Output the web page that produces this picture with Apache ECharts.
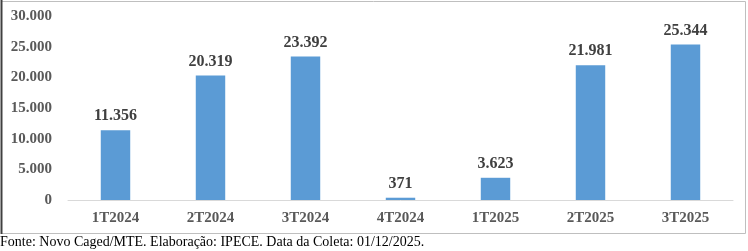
<!DOCTYPE html>
<html><head><meta charset="utf-8">
<script src="https://cdn.jsdelivr.net/npm/echarts@6/dist/echarts.min.js"></script>
<style>html,body{margin:0;padding:0;background:#fff}#c{width:748px;height:251px}</style>
</head><body><div id="c"></div>
<script>
const categories = ['1T2024','2T2024','3T2024','4T2024','1T2025','2T2025','3T2025'];
const values = [11356, 20319, 23392, 371, 3623, 21981, 25344];
const yTicks = [0, 5000, 10000, 15000, 20000, 25000, 30000];
const sourceText = 'Fonte: Novo Caged/MTE. Elaboração: IPECE. Data da Coleta: 01/12/2025.';

const fmt = v => String(v).replace(/\B(?=(\d{3})+(?!\d))/g, '.');
const serif = '"Liberation Serif", "Times New Roman", serif';
const chart = echarts.init(document.getElementById('c'), null, {renderer:'canvas'});
chart.setOption({
  animation: false,
  grid: {left: 68, right: 15, top: 16, bottom: 51, containLabel: false},
  graphic: [
    {type:'rect', shape:{x:1.5, y:1.5, width:744, height:232}, style:{fill:'none', stroke:'#bfbfbf', lineWidth:1}},
    {type:'line', shape:{x1:1.5, y1:0, x2:1.5, y2:234}, style:{stroke:'#404040', lineWidth:2}},
    {type:'text', left:0, top:235, style:{text: sourceText, font: '14px ' + serif, fill:'#000'}}
  ],
  xAxis: {
    type:'category', data: categories,
    axisLine:{lineStyle:{color:'#d9d9d9', width:1}},
    axisTick:{show:false},
    axisLabel:{color:'#595959', fontFamily: serif, fontWeight:'bold', fontSize:15, margin:11}
  },
  yAxis: {
    type:'value', min: yTicks[0], max: yTicks[yTicks.length-1], interval: yTicks[1]-yTicks[0],
    axisLine:{show:false}, axisTick:{show:false}, splitLine:{show:false},
    axisLabel:{color:'#595959', fontFamily: serif, fontWeight:'bold', fontSize:15, margin:16, formatter: v => fmt(v)}
  },
  series: [{
    type:'bar', data: values, barWidth:'31%',
    itemStyle:{color:'#5b9bd5'},
    label:{show:true, position:'top', distance:6, color:'#404040', fontFamily: serif, fontWeight:'bold', fontSize:16, formatter: p => fmt(p.value)}
  }]
});
</script></body></html>
